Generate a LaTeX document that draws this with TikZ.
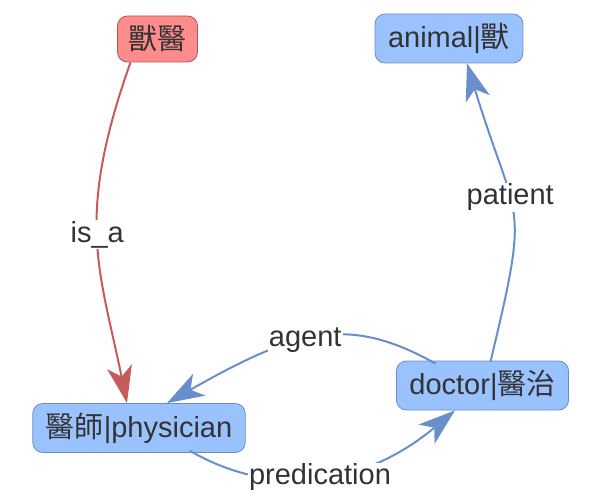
\documentclass[tikz,border=0pt]{standalone}
\usepackage{fontspec}
\setmainfont{Liberation Sans}
\newfontfamily\cjk{Noto Sans CJK TC}
\usetikzlibrary{arrows.meta}
\definecolor{bluefill}{RGB}{153,194,255}
\definecolor{blueline}{RGB}{108,142,191}
\definecolor{blueedge}{RGB}{104,142,204}
\definecolor{redfill}{RGB}{255,140,140}
\definecolor{redline}{RGB}{184,84,80}
\definecolor{rededge}{RGB}{200,90,90}
\definecolor{txt}{RGB}{51,51,51}
\tikzset{
  base/.style={rounded corners=10pt, minimum height=49pt, inner xsep=13pt, inner ysep=0pt,
    text=txt, font=\fontsize{29}{34}\selectfont},
  bluebox/.style={base, fill=bluefill, draw=blueline, line width=0.8pt},
  redbox/.style={base, fill=redfill, draw=redline, line width=0.8pt, inner xsep=11pt, minimum height=46pt},
  tip/.style={-{Stealth[length=37pt,width=25pt,inset=10pt]}},
  blueedge/.style={draw=blueedge, line width=2pt, tip},
  rededge/.style={draw=rededge, line width=2pt, tip},
  lbl/.style={fill=white, text=txt, font=\fontsize{29}{34}\selectfont, inner sep=1pt}
}
\begin{document}
\begin{tikzpicture}[x=1pt,y=-1pt]
\useasboundingbox (0,0) rectangle (594,503);
\node[redbox] (vet) at (157.5,39) {\cjk 獸醫};
\node[bluebox] (animal) at (449,38.5) {animal|{\cjk 獸}};
\node[bluebox] (phys) at (139,428) {{\cjk 醫師}|physician};
\node[bluebox] (doc) at (482.5,385.5) {doctor|{\cjk 醫治}};

\coordinate (isaS) at ([xshift=-27pt]vet.south);
\coordinate (isaE) at ([xshift=-12pt]phys.north);
\draw[rededge] (isaS) .. controls (75,219) and (99,267) .. (isaE)
  node[lbl, pos=0.48] {is\_a};

\coordinate (patS) at ([xshift=8pt,yshift=-1pt]doc.north);
\coordinate (patE) at ([xshift=18pt]animal.south);
\draw[blueedge] (patS) .. controls (531,193) and (517.5,229) .. (patE)
  node[lbl, pos=0.57] {patient};

\coordinate (agS) at ([xshift=-47pt,yshift=-3pt]doc.north);
\coordinate (agE) at ([xshift=28pt]phys.north);
\draw[blueedge] (agS) .. controls (348.6,314.8) and (297,329) .. (agE)
  node[lbl, pos=0.55] {agent};

\coordinate (prS) at ([xshift=51pt,yshift=2pt]phys.south);
\coordinate (prE) at ([xshift=-27.5pt]doc.south);
\draw[blueedge] (prS) .. controls (273.6,499) and (364.7,486) .. (prE)
  node[lbl, pos=0.5] {predication};
\end{tikzpicture}
\end{document}
